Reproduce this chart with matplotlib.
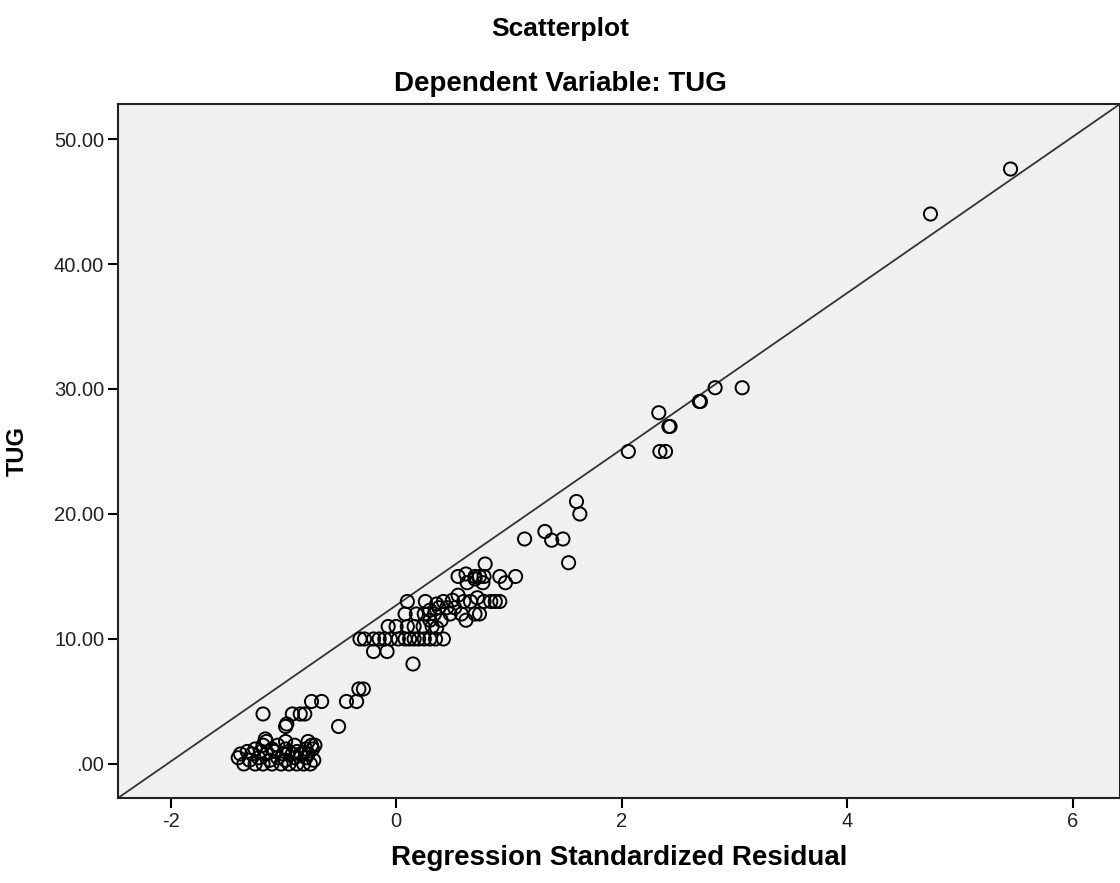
import matplotlib
matplotlib.use("Agg")
import matplotlib.pyplot as plt
from matplotlib.ticker import FuncFormatter

plt.rcParams['font.family'] = ['Liberation Sans', 'DejaVu Sans']

# Regression standardized residual (x) and TUG (y)
resid = [
    5.45, 4.74,
    2.06, 2.33, 2.42, 2.43, 2.34, 2.39, 2.69, 2.70, 2.83, 3.07,
    1.14, 1.32, 1.38, 1.48, 1.53, 1.60, 1.63,
    0.55, 0.62, 0.70, 0.74, 0.78, 0.92, 1.06, 0.77, 0.63, 0.97, 0.79, 0.70,
    0.10, 0.26, 0.36, 0.42, 0.50, 0.55, 0.60, 0.66, 0.72, 0.78, 0.84, 0.88, 0.92,
    0.08, 0.18, 0.25, 0.30, 0.34, 0.38, 0.45, 0.52, 0.58, 0.62, 0.70, 0.74, 0.30, 0.40, 0.48,
    0.00, -0.07, 0.10, 0.16, 0.24, 0.32, 0.36,
    -0.32, -0.28, -0.20, -0.15, -0.10, -0.05, 0.02, 0.08, 0.12, 0.16, 0.20, 0.25, 0.30, 0.35, 0.42,
    -0.20, -0.08, 0.15,
    -0.35, -0.33, -0.29, -0.44, -0.51, -0.66, -0.75,
    -1.18, -0.92, -0.85, -0.81, -0.98, -0.97,
    -1.35, -1.25, -1.18, -1.10, -1.02, -0.95, -0.88, -0.82, -0.76,
    -1.30, -1.12, -0.98, -0.73,
    -1.40, -1.22, -1.05, -0.90, -0.80,
    -1.38, -1.28, -1.15, -1.00, -0.92, -0.85, -0.78,
    -1.32, -1.20, -1.08, -0.95, -0.88,
    -1.25, -1.10, -0.98, -0.80, -0.74,
    -1.18, -1.05, -0.90, -0.75, -0.72,
    -1.15, -0.98, -0.78, -1.16,
]
tug = [
    47.6, 44.0,
    25.0, 28.1, 27.0, 27.0, 25.0, 25.0, 29.0, 29.0, 30.1, 30.1,
    18.0, 18.6, 17.9, 18.0, 16.1, 21.0, 20.0,
    15.0, 15.2, 15.0, 15.0, 15.0, 15.0, 15.0, 14.5, 14.5, 14.5, 16.0, 14.8,
    13.0, 13.0, 12.8, 13.0, 13.1, 13.5, 13.0, 13.0, 13.3, 13.0, 13.0, 13.0, 13.0,
    12.0, 12.0, 12.0, 12.3, 12.0, 12.5, 12.5, 12.5, 12.0, 11.5, 12.0, 12.0, 11.5, 11.5, 12.0,
    11.0, 11.0, 11.0, 11.0, 11.0, 11.0, 10.9,
    10.0, 10.0, 10.0, 10.0, 10.0, 10.0, 10.0, 10.0, 10.0, 10.0, 10.0, 10.0, 10.0, 10.0, 10.0,
    9.0, 9.0, 8.0,
    5.0, 6.0, 6.0, 5.0, 3.0, 5.0, 5.0,
    4.0, 4.0, 4.0, 4.0, 3.0, 3.2,
    0.0, 0.0, 0.0, 0.0, 0.0, 0.0, 0.0, 0.0, 0.0,
    0.3, 0.3, 0.3, 0.3,
    0.5, 0.5, 0.5, 0.5, 0.5,
    0.8, 0.8, 0.8, 0.8, 0.8, 0.8, 0.8,
    1.0, 1.0, 1.0, 1.0, 1.0,
    1.2, 1.2, 1.2, 1.2, 1.2,
    1.5, 1.5, 1.5, 1.5, 1.5,
    1.8, 1.8, 1.8, 2.0,
]
x_ticks = [-2, 0, 2, 4, 6]
y_ticks = [0, 10, 20, 30, 40, 50]

fig = plt.figure(figsize=(11.2, 8.83), dpi=100)
ax = fig.add_axes([0.1054, 0.0963, 0.8946, 0.7859])
ax.set_facecolor('#f0f0f0')

ax.set_xlim(-2.466, 6.421)
ax.set_ylim(-2.72, 52.8)

ax.scatter(resid, tug, s=90, facecolors='none', edgecolors='black',
           linewidths=1.4, zorder=3)

# reference line across the plot frame
x0, x1 = ax.get_xlim()
y0, y1 = ax.get_ylim()
ax.plot([x0, x1], [y0, y1], color='#333333', linewidth=1.3, zorder=2)

ax.set_xticks(x_ticks)
ax.set_yticks(y_ticks)
ax.xaxis.set_major_formatter(FuncFormatter(lambda v, p: f"{v:.0f}"))
ax.yaxis.set_major_formatter(FuncFormatter(lambda v, p: f"{v:.2f}".lstrip('0') if v < 1 else f"{v:.2f}"))
ax.tick_params(direction='out', length=7, width=1.5, labelsize=14.5, colors='black', pad=3)
for lbl in ax.get_xticklabels() + ax.get_yticklabels():
    lbl.set_color('#222222')

for sp in ax.spines.values():
    sp.set_linewidth(1.5)
    sp.set_color('#222222')

ax.set_xlabel('Regression Standardized Residual', fontsize=20, fontweight='bold', labelpad=10)
ax.set_ylabel('TUG', fontsize=17, fontweight='bold', labelpad=18)

fig.text(0.5, 1 - 29 / 883, 'Scatterplot', ha='center', va='center', fontsize=19, fontweight='bold')
fig.text(0.5, 1 - 84 / 883, 'Dependent Variable: TUG', ha='center', va='center', fontsize=20, fontweight='bold')

fig.savefig('out.png', dpi=100)
